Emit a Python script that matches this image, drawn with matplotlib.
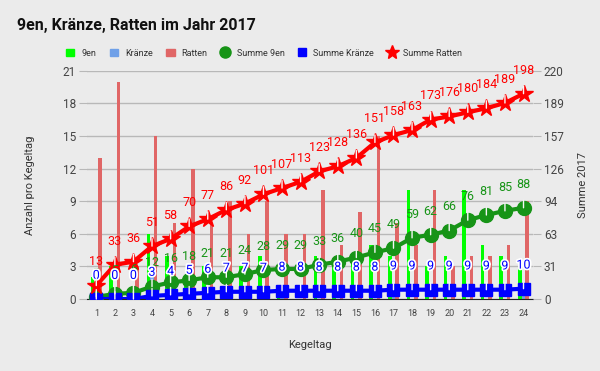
import numpy as np
import matplotlib
matplotlib.use("Agg")
import matplotlib.pyplot as plt
from matplotlib.patches import Patch
from matplotlib.lines import Line2D
import matplotlib.patheffects as pe

# data per Kegeltag
tage = list(range(1, 25))
neuner = [2, 3, 1, 6, 4, 2, 3, 0, 3, 4, 1, 0, 4, 3, 4, 5, 4, 10, 3, 4, 10, 5, 4, 3]
kraenze = [0, 0, 0, 3, 1, 1, 1, 1, 0, 0, 1, 0, 0, 0, 0, 0, 1, 0, 0, 0, 0, 0, 0, 1]
ratten = [13, 20, 3, 15, 7, 12, 7, 9, 6, 9, 6, 6, 10, 5, 8, 15, 7, 5, 10, 3, 4, 4, 5, 9]

summe_neuner = np.cumsum(neuner)
summe_kraenze = np.cumsum(kraenze)
summe_ratten = np.cumsum(ratten)

bg = "#ebebeb"
c_neuner = "#00ff00"
c_kraenze = "#6fa0e8"
c_ratten = "#e06666"
c_sneuner = "#179417"
c_skraenze = "#0000ff"
c_sratten = "#ff0000"

plt.rcParams['font.family'] = ['Roboto', 'DejaVu Sans']

fig = plt.figure(figsize=(6, 3.71), dpi=100, facecolor=bg)
ax = fig.add_axes([0.145, 0.194, 0.743, 0.615], facecolor=bg)
ax2 = ax.twinx()

x = np.array(tage)
w = 0.19
ax.bar(x - 0.2, neuner, w, color=c_neuner, zorder=2)
ax.bar(x, kraenze, w, color=c_kraenze, zorder=2)
ax.bar(x + 0.2, ratten, w, color=c_ratten, zorder=2)

ax.set_xlim(0.5, 24.5)
ax.set_ylim(0, 21)
ax.set_yticks(range(0, 22, 3))
ax.set_xticks(tage)
ax.grid(axis='y', color='#b8b8b8', lw=1, zorder=0)
ax.set_axisbelow(True)
for s in ['top', 'right', 'left']:
    ax.spines[s].set_visible(False)
ax.spines['bottom'].set_color('#222222')
ax.tick_params(axis='y', length=6, color='#b8b8b8', labelsize=8.5, labelcolor='#444444', pad=2)
ax.tick_params(axis='x', length=0, labelsize=6.5, labelcolor='#444444', pad=7)
ax.set_xlabel("Kegeltag", fontsize=8, color='#333333', labelpad=16)
ax.set_ylabel("Anzahl pro Kegeltag", fontsize=8, color='#333333', labelpad=20)

ax2.set_ylim(0, 220)
rt = np.linspace(0, 220, 8)
ax2.set_yticks(rt)
ax2.set_yticklabels([str(int(round(v))) for v in rt])
for s in ['top', 'right', 'left', 'bottom']:
    ax2.spines[s].set_visible(False)
ax2.tick_params(axis='y', length=6, color='#b8b8b8', labelsize=8.5, labelcolor='#444444', pad=2)
ax2.set_ylabel("Summe 2017", fontsize=8, color='#333333', labelpad=10)

ax2.plot(x, summe_neuner, color=c_sneuner, lw=3, marker='o', ms=10, zorder=3)
ax2.plot(x, summe_kraenze, color=c_skraenze, lw=3, marker='s', ms=8, zorder=4)
ax2.plot(x, summe_ratten, color=c_sratten, lw=3, marker='*', ms=13, zorder=5)


def labels(vals, col, halo=False, z=6):
    for xi, v in zip(x, vals):
        t = ax2.annotate(str(v), (xi, v), xytext=(0, 17), textcoords='offset points',
                         ha='center', va='center', fontsize=9, color=col, zorder=z,
                         arrowprops=dict(arrowstyle='-', color='#f6f6f6', lw=1, shrinkA=5, shrinkB=0))
        if halo:
            t.set_path_effects([pe.withStroke(linewidth=2.5, foreground='white')])


labels(summe_neuner, c_sneuner, z=6)
labels(summe_kraenze, c_skraenze, halo=True, z=7)
labels(summe_ratten, c_sratten, z=8)

fig.text(0.028, 0.93, "9en, Kränze, Ratten im Jahr 2017", fontsize=11.5, fontweight='bold',
         color='#111111', va='center')

handles = [
    Patch(color=c_neuner, label='9en'),
    Patch(color=c_kraenze, label='Kränze'),
    Patch(color=c_ratten, label='Ratten'),
    Line2D([], [], color=c_sneuner, marker='o', ms=8, lw=0, label='Summe 9en'),
    Line2D([], [], color=c_skraenze, marker='s', ms=6, lw=0, label='Summe Kränze'),
    Line2D([], [], color=c_sratten, marker='*', ms=10, lw=0, label='Summe Ratten'),
]
fig.legend(handles=handles, loc='center', bbox_to_anchor=(0.44, 0.857), ncol=6, frameon=False,
           fontsize=6.5, handlelength=0.9, handleheight=0.9, columnspacing=1.5, handletextpad=0.8,
           labelcolor='#333333')

fig.savefig("out.png", dpi=100, facecolor=bg)
